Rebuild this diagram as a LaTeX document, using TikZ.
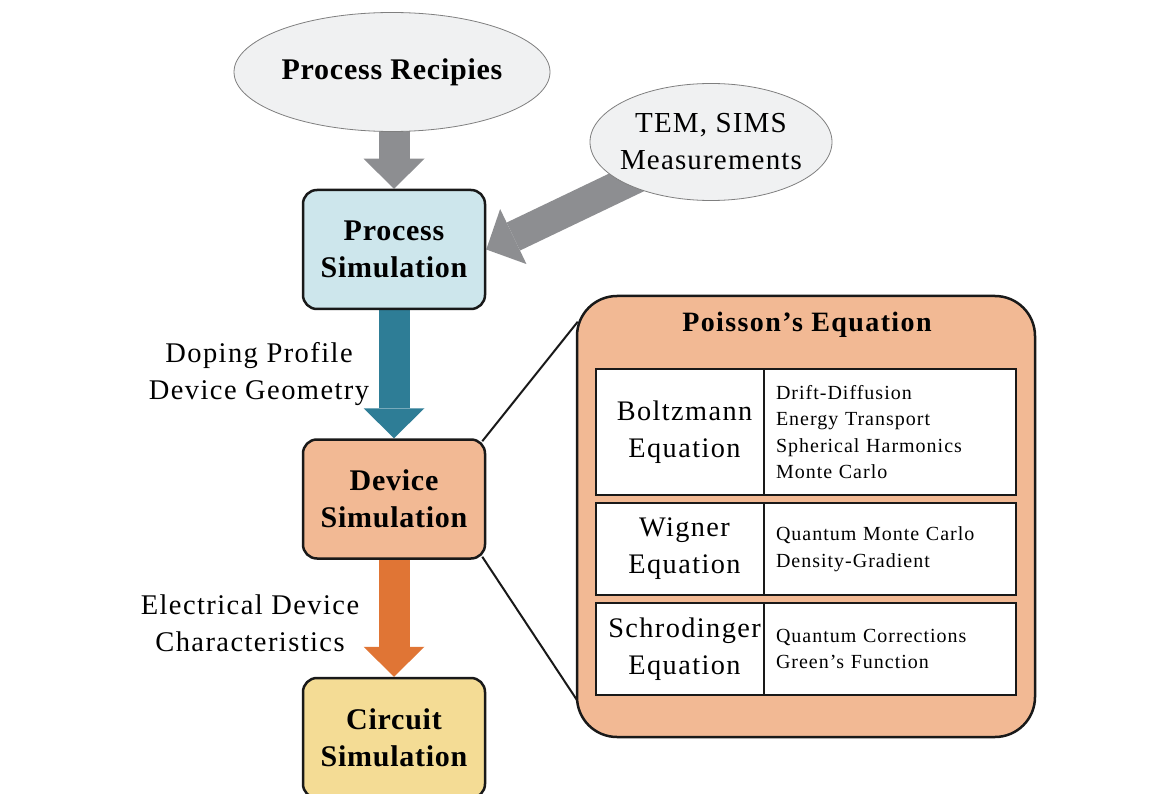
\documentclass[tikz,border=0pt]{standalone}
\usepackage{fontspec}
\setmainfont{Liberation Serif}
\usetikzlibrary{shapes.geometric,calc,backgrounds}
\definecolor{ellfill}{HTML}{F0F1F2}
\definecolor{ellline}{HTML}{7F7F7F}
\definecolor{procfill}{HTML}{CDE6EC}
\definecolor{devfill}{HTML}{F2B994}
\definecolor{circfill}{HTML}{F4DC95}
\definecolor{arrgray}{HTML}{8D8E91}
\definecolor{arrteal}{HTML}{2E7D96}
\definecolor{arrorange}{HTML}{E07535}
\newcommand{\blockarrow}[3]{%
  \draw[#1, line width=31pt] (#2) -- ($(#3)!30pt!(#2)$);
  \fill[#1] (#3) -- ($(#3)!30pt!(#2)!30.5pt!90:(#3)$) -- ($(#3)!30pt!(#2)!30.5pt!-90:(#3)$) -- cycle;}
\newcommand{\regsp}{\addfontfeature{LetterSpace=5}}
\newcommand{\boldsp}{\addfontfeature{LetterSpace=2.5}}
\newcommand{\rsh}{\hspace*{9pt}}
\tikzset{
  ell/.style={ellipse, draw=ellline, line width=0.8pt, fill=ellfill, align=center, inner sep=0pt},
  simbox/.style={rectangle, rounded corners=14pt, draw=black!90, line width=2.5pt,
    minimum width=182pt, minimum height=119pt, align=center, inner sep=0pt,
    font=\fontsize{30}{37}\selectfont\bfseries\boldsp},
  lbl/.style={align=center, inner sep=0pt, font=\fontsize{28.5}{37}\selectfont\regsp},
  leftcell/.style={rectangle, draw=black!90, line width=2pt, fill=white, minimum width=168pt,
    align=center, inner sep=0pt, font=\fontsize{28.3}{37}\selectfont\regsp},
  rightcell/.style={rectangle, draw=black!90, line width=2pt, fill=white, text width=228pt,
    inner xsep=12pt, inner ysep=0pt, align=left, font=\fontsize{20}{26.5}\selectfont\regsp},
}
\begin{document}
\begin{tikzpicture}[x=1pt,y=-1pt]
\useasboundingbox (0,0) rectangle (1165,794);
% ellipses
\node[ell, minimum width=316pt, minimum height=119pt, font=\fontsize{30}{37}\selectfont\bfseries\boldsp] (recipes) at (392,72) {Process Recipies};
\node[ell, inner xsep=-12pt, inner ysep=-6pt, minimum width=242pt, minimum height=117pt, font=\fontsize{29}{37}\selectfont\addfontfeature{LetterSpace=4}] (tem) at (711,142) {TEM, SIMS\\Measurements};
% simulation boxes
\node[simbox, fill=procfill] (procsim) at (394,249.5) {Process\\Simulation};
\node[simbox, fill=devfill] (devsim) at (394,499) {Device\\Simulation};
\node[simbox, fill=circfill, minimum height=120pt] (circsim) at (394,738) {Circuit\\Simulation};
% labels
\node[lbl] (doping) at (259,374) {Doping Profile\\Device Geometry};
\node[lbl] (elec) at (250,623.5) {Electrical Device\\Characteristics};
% Poisson box
\node[rectangle, rounded corners=40pt, draw=black!90, line width=2.5pt, fill=devfill,
  minimum width=458pt, minimum height=441pt] (poisson) at (806,516.5) {};
\node[inner sep=0pt, font=\fontsize{28}{34}\selectfont\bfseries\addfontfeature{LetterSpace=5}] (ptitle) at (807,325) {Poisson’s Equation};
% table
\node[leftcell, minimum height=126pt] (boltz) at (680,432) {\rsh Boltzmann\\\rsh Equation};
\node[rightcell, minimum height=126pt] (boltzm) at (890,432) {Drift-Diffusion\\Energy Transport\\Spherical Harmonics\\Monte Carlo};
\node[leftcell, minimum height=92pt] (wig) at (680,549) {\rsh Wigner\\\rsh Equation};
\node[rightcell, minimum height=92pt] (wigm) at (890,549) {Quantum Monte Carlo\\Density-Gradient};
\node[leftcell, minimum height=92pt] (sch) at (680,649) {\rsh Schrodinger\\\rsh Equation};
\node[rightcell, minimum height=92pt] (schm) at (890,649) {Quantum Corrections\\Green’s Function};
% connectors behind
\begin{scope}[on background layer]
  \blockarrow{arrgray}{procsim.north |- recipes.center}{procsim.north}
  \blockarrow{arrgray}{tem.center}{procsim.east}
  \blockarrow{arrteal}{procsim.center}{devsim.north}
  \blockarrow{arrorange}{devsim.center}{circsim.north}
  \draw[line width=2pt, black!90] ($(devsim.north east)+(-4,3)$) -- ($(poisson.north west)+(2,27)$);
  \draw[line width=2pt, black!90] ($(devsim.south east)+(-4,-3)$) -- ($(poisson.south west)+(2,-37)$);
\end{scope}
\end{tikzpicture}
\end{document}
